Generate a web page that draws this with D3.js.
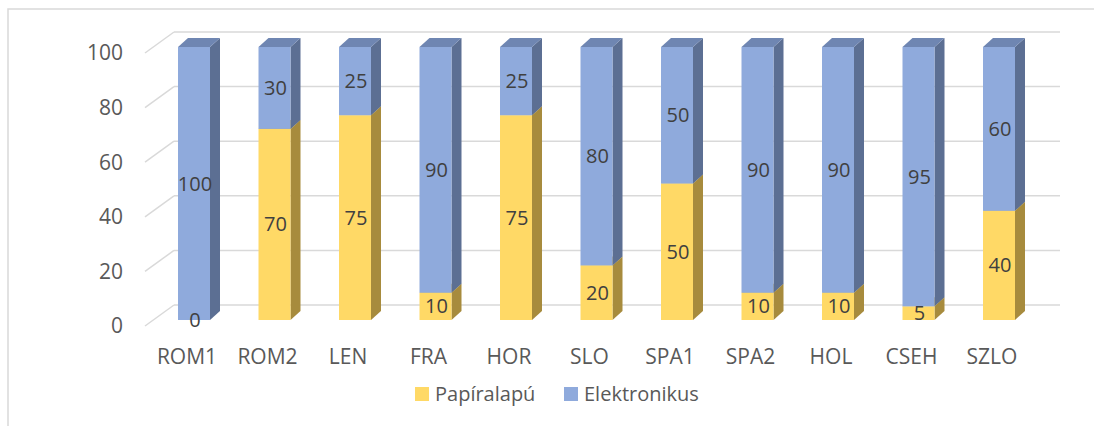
<!DOCTYPE html>
<html>
<head>
<meta charset="utf-8">
<script src="https://cdn.jsdelivr.net/npm/d3@7"></script>
<style>
  body { margin: 0; background: #fff; }
  text { font-family: "Open Sans", sans-serif; }
</style>
</head>
<body>
<div id="chart"></div>
<script>
// chart data
var categories = ["ROM1", "ROM2", "LEN", "FRA", "HOR", "SLO", "SPA1", "SPA2", "HOL", "CSEH", "SZLO"];
var papir = [0, 70, 75, 10, 75, 20, 50, 10, 10, 5, 40];
var elektr = [100, 30, 25, 90, 25, 80, 50, 90, 90, 95, 60];
var yTicks = [0, 20, 40, 60, 80, 100];
var seriesNames = ["Papíralapú", "Elektronikus"];

var width = 1094;
var height = 426;

// 3d look
var barW = 32;
var depthX = 10, depthY = -9;     // bar depth
var wallX = 29, wallY = 21;       // side wall depth

var colors = {
  "Papíralapú": { front: "#FFD966", side: "#A78B3D", top: "#C8AB52" },
  "Elektronikus": { front: "#8FAADC", side: "#5C6F93", top: "#6F86B2" }
};

var svg = d3.select("#chart").append("svg")
  .attr("width", width)
  .attr("height", height);

// outer border
svg.append("rect")
  .attr("x", 8).attr("y", 9)
  .attr("width", 1200).attr("height", 500)
  .attr("fill", "none")
  .attr("stroke", "#d9d9d9")
  .attr("stroke-width", 1.5);

var x = d3.scalePoint().domain(categories).range([194, 999]);
var yBack = d3.scaleLinear().domain([0, 100]).range([305, 32]);
var yFront = d3.scaleLinear().domain([0, 100]).range([320, 47]);

// gridlines on back wall and side wall
var grid = svg.append("g");
grid.selectAll(".back").data(yTicks).enter().append("line")
  .attr("x1", 174).attr("x2", 1060)
  .attr("y1", function(d) { return yBack(d); })
  .attr("y2", function(d) { return yBack(d); })
  .attr("stroke", "#d9d9d9").attr("stroke-width", 1.5);
grid.selectAll(".side").data(yTicks).enter().append("line")
  .attr("x1", 174 - wallX).attr("x2", 174)
  .attr("y1", function(d) { return yBack(d) + wallY; })
  .attr("y2", function(d) { return yBack(d); })
  .attr("stroke", "#d9d9d9").attr("stroke-width", 1.5);

// y tick labels
svg.append("g").selectAll("text").data(yTicks).enter().append("text")
  .attr("x", 123)
  .attr("y", function(d) { return yBack(d) + wallY; })
  .attr("dy", "0.35em")
  .attr("text-anchor", "end")
  .attr("font-size", 21)
  .attr("fill", "#595959")
  .text(function(d) { return d; });

// category labels
svg.append("g").selectAll("text").data(categories).enter().append("text")
  .attr("x", function(d) { return x(d) - 7; })
  .attr("y", 357)
  .attr("dy", "0.35em")
  .attr("text-anchor", "middle")
  .attr("font-size", 21)
  .attr("fill", "#595959")
  .text(function(d) { return d; });

// stacked data
var rows = categories.map(function(c, i) {
  return { cat: c, "Papíralapú": papir[i], "Elektronikus": elektr[i] };
});
var stacked = d3.stack().keys(seriesNames)(rows);

function quad(pts) {
  return "M" + pts.map(function(p) { return p.join(","); }).join("L") + "Z";
}

var bars = svg.append("g");
categories.forEach(function(c, i) {
  stacked.forEach(function(layer) {
    var seg = layer[i];
    var v = seg[1] - seg[0];
    if (v <= 0) return;
    var col = colors[layer.key];
    var x0 = x(c) - barW / 2, x1 = x0 + barW;
    var yt = yFront(seg[1]), yb = yFront(seg[0]);
    var g = bars.append("g");
    g.append("path")
      .attr("d", quad([[x1, yb], [x1 + depthX, yb + depthY], [x1 + depthX, yt + depthY], [x1, yt]]))
      .attr("fill", col.side);
    g.append("path")
      .attr("d", quad([[x0, yt], [x1, yt], [x1 + depthX, yt + depthY], [x0 + depthX, yt + depthY]]))
      .attr("fill", col.top);
    g.append("rect")
      .attr("x", x0).attr("y", yt)
      .attr("width", barW).attr("height", yb - yt)
      .attr("fill", col.front);
  });
});

// data labels
var labels = svg.append("g");
categories.forEach(function(c, i) {
  stacked.forEach(function(layer) {
    var seg = layer[i];
    labels.append("text")
      .attr("x", x(c) + 1)
      .attr("y", yFront((seg[0] + seg[1]) / 2))
      .attr("dy", "0.35em")
      .attr("text-anchor", "middle")
      .attr("font-size", 20)
      .attr("fill", "#404040")
      .text(seg[1] - seg[0]);
  });
});

// legend
var legend = svg.append("g");
var legX = [415, 564];
seriesNames.forEach(function(s, i) {
  legend.append("rect")
    .attr("x", legX[i]).attr("y", 387)
    .attr("width", 14).attr("height", 14)
    .attr("fill", colors[s].front);
  legend.append("text")
    .attr("x", legX[i] + 20).attr("y", 394)
    .attr("dy", "0.35em")
    .attr("font-size", 20)
    .attr("fill", "#595959")
    .text(s);
});
</script>
</body>
</html>
